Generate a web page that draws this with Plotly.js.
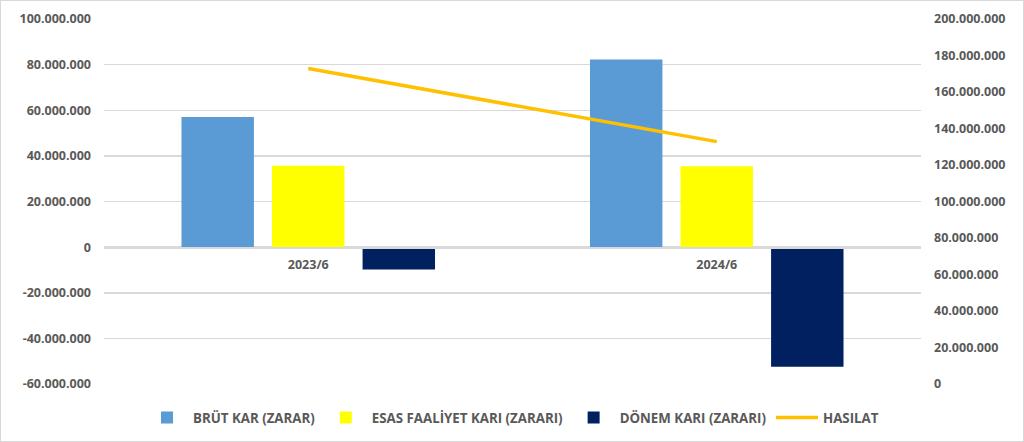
<!DOCTYPE html>
<html>
<head>
<meta charset="utf-8">
<script src="https://cdn.plot.ly/plotly-3.0.1.min.js"></script>
<style>
  body { margin: 0; background: #fff; }
  #chart { width: 1022px; height: 440px; border: 1px solid #d9d9d9; }
</style>
</head>
<body>
<div id="chart"></div>
<script>
const periods = ["2023/6", "2024/6"];
const brutKar = [57000000, 82300000];
const esasFaaliyetKari = [35700000, 35400000];
const donemKari = [-9800000, -52400000];
const hasilat = [172900000, 132800000];

const leftTickVals = [-60000000, -40000000, -20000000, 0, 20000000, 40000000, 60000000, 80000000, 100000000];
const leftTickText = ["-60.000.000", "-40.000.000", "-20.000.000", "0", "20.000.000", "40.000.000", "60.000.000", "80.000.000", "100.000.000"];
const rightTickVals = [0, 20000000, 40000000, 60000000, 80000000, 100000000, 120000000, 140000000, 160000000, 180000000, 200000000];
const rightTickText = ["0", "20.000.000", "40.000.000", "60.000.000", "80.000.000", "100.000.000", "120.000.000", "140.000.000", "160.000.000", "180.000.000", "200.000.000"];

const textFont = { family: "Open Sans, Liberation Sans, sans-serif", size: 12.5, color: "#595959", weight: 700 };
const legendFont = Object.assign({}, textFont, { size: 13.3 });

const traces = [
  { type: "bar", name: "BRÜT KAR (ZARAR)", x: periods, y: brutKar, marker: { color: "#5b9bd5" } },
  { type: "bar", name: "ESAS FAALİYET KARI (ZARARI)", x: periods, y: esasFaaliyetKari, marker: { color: "#ffff00" } },
  { type: "bar", name: "DÖNEM KARI (ZARARI)", x: periods, y: donemKari, marker: { color: "#002060" } },
  { type: "scatter", mode: "lines", name: "HASILAT", x: periods, y: hasilat, yaxis: "y2",
    line: { color: "#ffc000", width: 3.5 } },
];

const layout = {
  width: 1022,
  height: 440,
  margin: { l: 103, r: 102, t: 18, b: 57, autoexpand: false },
  paper_bgcolor: "#ffffff",
  plot_bgcolor: "#ffffff",
  font: textFont,
  barmode: "group",
  bargap: 0.335,
  bargroupgap: 0.2,
  showlegend: true,
  legend: {
    orientation: "h",
    x: 0.5, xanchor: "center",
    y: -0.093, yanchor: "middle",
    font: legendFont,
    itemwidth: 42,
    traceorder: "normal",
  },
  xaxis: {
    type: "category",
    anchor: "free",
    position: 0.375,
    showline: true,
    linecolor: "#d9d9d9",
    linewidth: 1.5,
    showgrid: false,
    ticks: "",
    tickfont: textFont,
    ticklabelstandoff: 5,
  },
  yaxis: {
    range: [-60000000, 100000000],
    tickvals: leftTickVals,
    ticktext: leftTickText,
    showgrid: true,
    gridcolor: "#d9d9d9",
    gridwidth: 1.5,
    zeroline: false,
    showline: false,
    ticks: "",
    tickfont: textFont,
    ticklabelstandoff: 12,
  },
  yaxis2: {
    overlaying: "y",
    side: "right",
    range: [0, 200000000],
    tickvals: rightTickVals,
    ticktext: rightTickText,
    showgrid: false,
    zeroline: false,
    showline: false,
    ticks: "",
    tickfont: textFont,
    ticklabelstandoff: 12,
  },
};

Plotly.newPlot("chart", traces, layout, { displayModeBar: false, staticPlot: true });
</script>
</body>
</html>
